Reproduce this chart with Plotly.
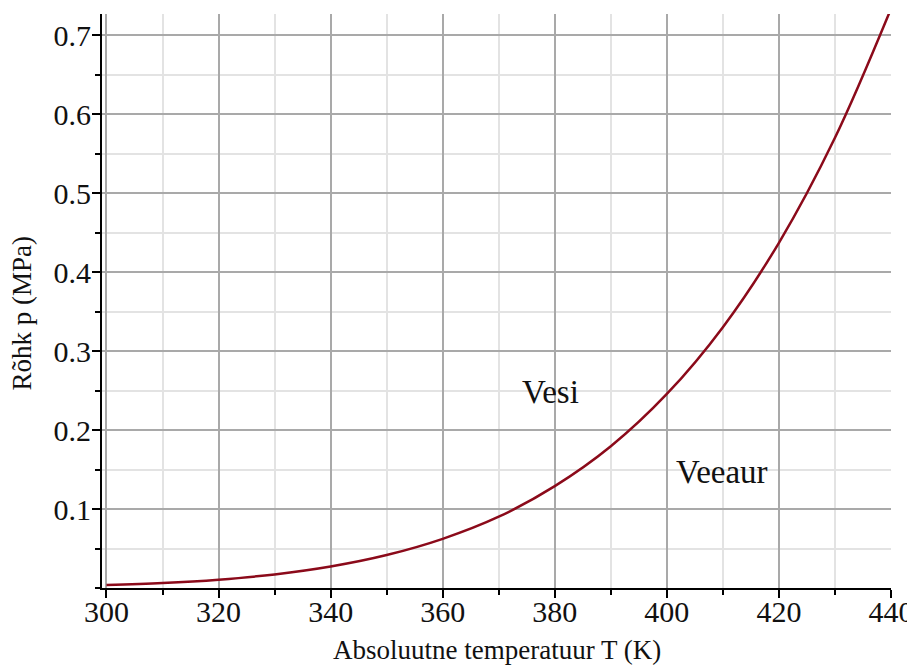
import plotly.graph_objects as go

# Temperature (K) and saturation pressure (MPa)
temperature_K = [300, 310, 320, 330, 340, 350, 360, 370, 380, 390, 400, 410, 420, 430, 440]
pressure_MPa = [0.0037, 0.0063, 0.0106, 0.0172, 0.0272, 0.0417, 0.0622, 0.0902, 0.1289,
                0.1794, 0.2456, 0.3302, 0.4370, 0.5699, 0.7333]

x_ticks = [300, 320, 340, 360, 380, 400, 420, 440]
y_ticks = [0.1, 0.2, 0.3, 0.4, 0.5, 0.6, 0.7]
y_tick_labels = ["0.1", "0.2", "0.3", "0.4", "0.5", "0.6", "0.7"]

region_labels = ["Vesi", "Veeaur"]
region_label_x = [379.3, 409.9]
region_label_y = [0.2485, 0.147]

x_title = "Absoluutne temperatuur T (K)"
y_title = "Rõhk p (MPa)"

serif = "Liberation Serif, Times New Roman, serif"
ink = "#111111"

fig = go.Figure()
fig.add_trace(go.Scatter(
    x=temperature_K, y=pressure_MPa, mode="lines",
    line=dict(color="#8b0a1a", width=2.5, shape="spline", smoothing=1.0),
    hoverinfo="x+y", showlegend=False,
))

for txt, lx, ly in zip(region_labels, region_label_x, region_label_y):
    fig.add_annotation(x=lx, y=ly, text=txt, showarrow=False,
                       font=dict(family=serif, size=33, color=ink))

fig.add_annotation(xref="paper", yref="paper", x=0.5006, y=-0.108, yanchor="middle",
                   text=x_title, showarrow=False,
                   font=dict(family=serif, size=27, color=ink))
fig.add_annotation(xref="paper", yref="paper", x=-0.1014, y=0.48, xanchor="center",
                   yanchor="middle", textangle=-90, text=y_title, showarrow=False,
                   font=dict(family=serif, size=27, color=ink))

axis_common = dict(
    tickfont=dict(family=serif, size=30, color=ink),
    showline=True, linecolor="black", linewidth=2, mirror=False,
    ticks="outside", ticklen=8, tickwidth=1.5, tickcolor="black",
    showgrid=True, gridcolor="#a9a9a9", gridwidth=1.5, zeroline=False,
    automargin=False,
)

# The page has an 8px body margin, so the figure is sized to fit the 915x666 window.
fig.update_layout(
    width=907, height=658,
    margin=dict(l=94, r=24, t=6, b=78),
    paper_bgcolor="white", plot_bgcolor="white",
    font=dict(family=serif, color=ink),
    xaxis=dict(
        range=[299.2, 440], tickvals=x_ticks, ticktext=[str(v) for v in x_ticks],
        ticklabelstandoff=-12,
        minor=dict(dtick=10, tick0=300, ticks="outside", ticklen=5, tickwidth=1.5,
                   tickcolor="black", showgrid=True, gridcolor="#e3e3e3", gridwidth=1.5),
        **axis_common,
    ),
    yaxis=dict(
        range=[0, 0.7266], tickvals=y_ticks, ticktext=y_tick_labels,
        ticklabelstandoff=-5,
        minor=dict(dtick=0.05, tick0=0, ticks="outside", ticklen=5, tickwidth=1.5,
                   tickcolor="black", showgrid=True, gridcolor="#e3e3e3", gridwidth=1.5),
        **axis_common,
    ),
)

fig.write_html("out.html")
